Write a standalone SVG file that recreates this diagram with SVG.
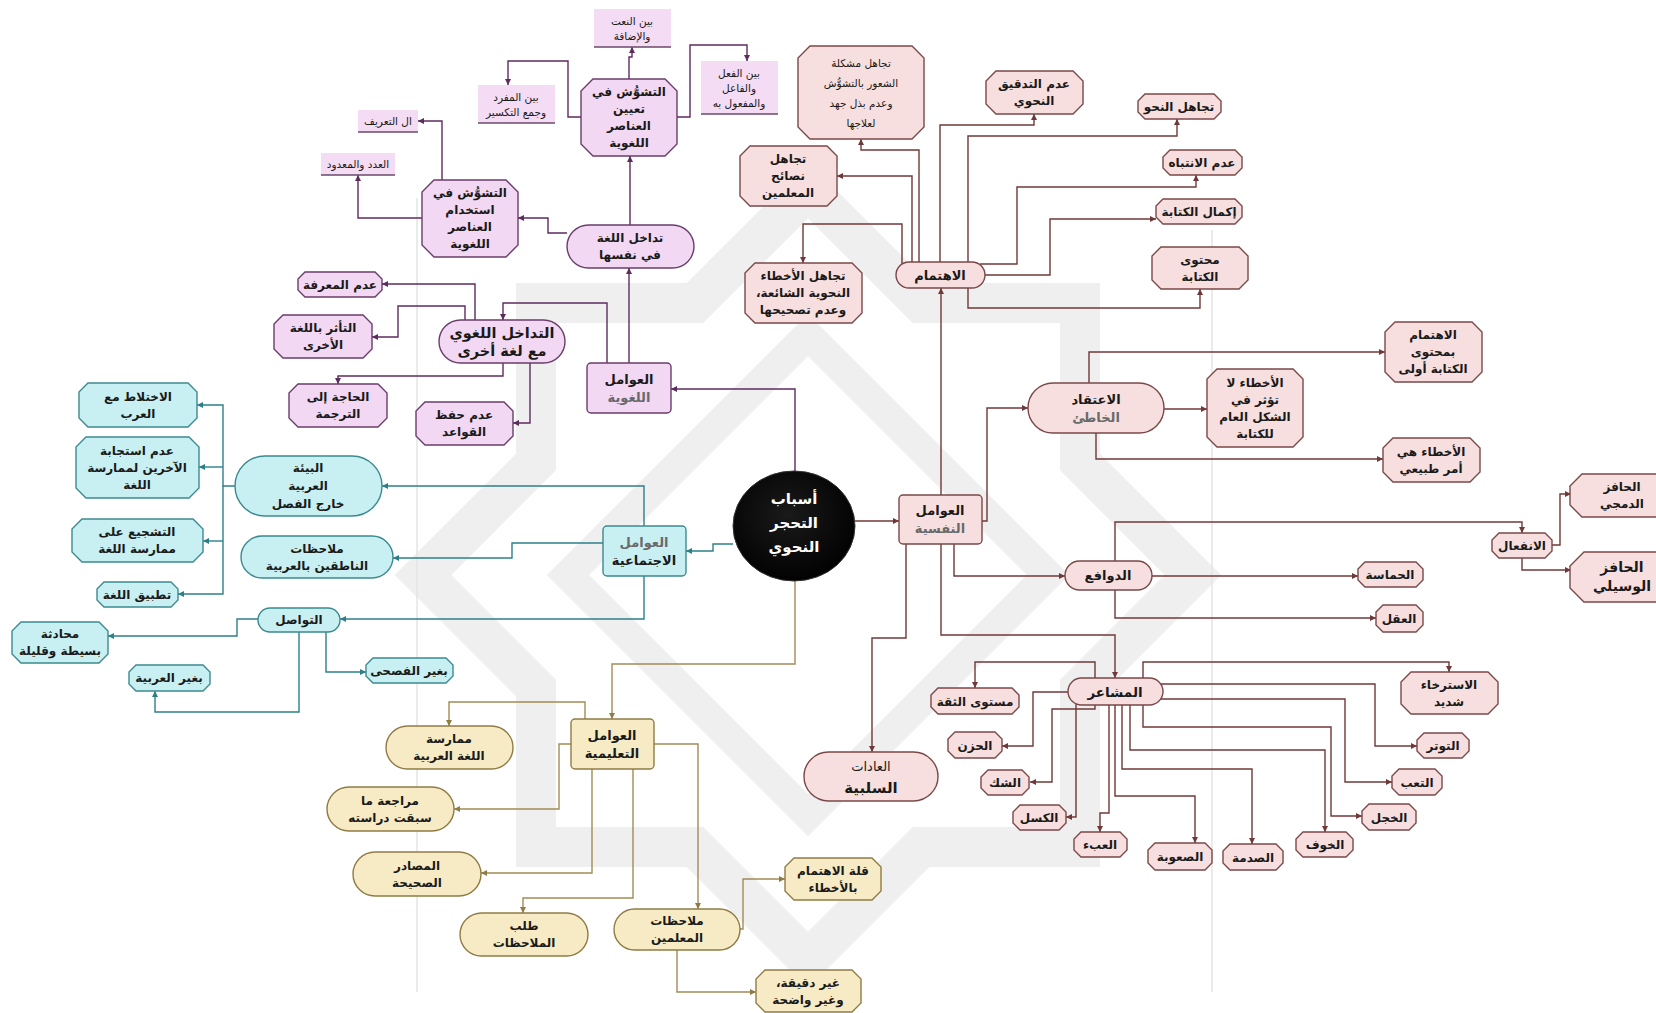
<svg xmlns="http://www.w3.org/2000/svg" width="1656" height="1013" viewBox="0 0 1656 1013">
<style>
.t{font-family:"DejaVu Sans",sans-serif;font-size:12px;font-weight:bold;text-anchor:middle;direction:rtl;fill:#1a1a1a}
.s{font-size:10.5px;font-weight:normal}
.g{fill:#6a6a6a}
.lv{fill:#f2d8f2;stroke:#6a3d6a;stroke-width:1.4}
.lvp{fill:#f3dcf4;stroke:none}
.lvb{stroke:#6a4a6a;stroke-width:1.6}
.cy{fill:#c8f0f3;stroke:#3b8a8f;stroke-width:1.4}
.tn{fill:#f7ebc6;stroke:#8f7c45;stroke-width:1.4}
.pk{fill:#f8dfdf;stroke:#7a4848;stroke-width:1.4}
.cp{fill:none;stroke:#5e2b5e;stroke-width:1.4;marker-end:url(#ap)}
.ct{fill:none;stroke:#2b8088;stroke-width:1.4;marker-end:url(#at)}
.ce{fill:none;stroke:#a38c55;stroke-width:1.4;marker-end:url(#ae)}
.cb{fill:none;stroke:#703838;stroke-width:1.4;marker-end:url(#ab)}
.wm{fill:none;stroke:#efefef;stroke-linejoin:miter}
</style>
<defs>
<marker id="ap" markerUnits="userSpaceOnUse" markerWidth="7" markerHeight="7" refX="6" refY="3" orient="auto"><path d="M0,0 L6,3 L0,6 z" fill="#5e2b5e"/></marker>
<marker id="at" markerUnits="userSpaceOnUse" markerWidth="7" markerHeight="7" refX="6" refY="3" orient="auto"><path d="M0,0 L6,3 L0,6 z" fill="#2b8088"/></marker>
<marker id="ae" markerUnits="userSpaceOnUse" markerWidth="7" markerHeight="7" refX="6" refY="3" orient="auto"><path d="M0,0 L6,3 L0,6 z" fill="#8f7c45"/></marker>
<marker id="ab" markerUnits="userSpaceOnUse" markerWidth="7" markerHeight="7" refX="6" refY="3" orient="auto"><path d="M0,0 L6,3 L0,6 z" fill="#703838"/></marker>
<radialGradient id="cg" cx="45%" cy="40%" r="65%"><stop offset="0" stop-color="#1a1a1a"/><stop offset="1" stop-color="#000"/></radialGradient>
</defs>
<rect width="1656" height="1013" fill="#fff"/>

<g id="watermark">
<polygon class="wm" stroke-width="40" points="1193,575 1080,688 1080,847 921,847 808,960 695,847 536,847 536,688 423,575 536,462 536,303 695,303 808,190 921,303 1080,303 1080,462"/>
<polygon class="wm" stroke-width="30" points="808,335 1048,575 808,815 568,575"/>
<line x1="417" y1="198" x2="417" y2="992" stroke="#e4e4e4" stroke-width="1.5"/>
<line x1="1212" y1="230" x2="1212" y2="992" stroke="#e4e4e4" stroke-width="1.5"/>
</g>

<g id="connectors">
<path class="cp" d="M795,472 V389 H671"/>
<path class="cp" d="M629,363 V268"/>
<path class="cp" d="M607,363 V303 H503 V320"/>
<path class="cp" d="M630,225 V156"/>
<path class="cp" d="M567,233 H548 V218 H518"/>
<path class="cp" d="M629,79 V57 H632 V47"/>
<path class="cp" d="M581,117 H568 V61 H508 V85"/>
<path class="cp" d="M677,117 H690 V45 H747 V61"/>
<path class="cp" d="M442,180 V121 H418"/>
<path class="cp" d="M422,218 H358 V175"/>
<path class="cp" d="M475,322 V284 H382"/>
<path class="cp" d="M465,322 V306 H398 V337 H372"/>
<path class="cp" d="M503,363 V376 H338 V384"/>
<path class="cp" d="M530,363 V423 H513"/>

<path class="ct" d="M733,544 H713 V551 H686"/>
<path class="ct" d="M644,526 V486 H382"/>
<path class="ct" d="M603,543 H512 V558 H393"/>
<path class="ct" d="M644,576 V619 H340"/>
<path class="ct" d="M235,486 H223 V405 H197"/>
<path class="ct" d="M223,467 H199"/>
<path class="ct" d="M223,541 H203"/>
<path class="ct" d="M223,486 V594 H178"/>
<path class="ct" d="M258,619 H237 V636 H108"/>
<path class="ct" d="M326,632 V672 H366"/>
<path class="ct" d="M299,632 V712 H155 V691"/>

<path class="ce" d="M795,581 V664 H612 V719"/>
<path class="ce" d="M585,719 V702 H449 V726"/>
<path class="ce" d="M571,744 H559 V809 H454"/>
<path class="ce" d="M592,769 V873 H481"/>
<path class="ce" d="M633,769 V898 H523 V913"/>
<path class="ce" d="M654,744 H698 V909"/>
<path class="ce" d="M740,929 H743 V879 H785"/>
<path class="ce" d="M677,950 V992 H756"/>

<path class="cb" d="M855,521 H899"/>
<path class="cb" d="M982,521 H987 V408 H1028"/>
<path class="cb" d="M941,495 V288"/>
<path class="cb" d="M954,544 V576 H1065"/>
<path class="cb" d="M941,544 V635 H1115 V678"/>
<path class="cb" d="M906,544 V638 H872 V752"/>
<path class="cb" d="M919,262 V150 H861 V139"/>
<path class="cb" d="M912,262 V176 H837"/>
<path class="cb" d="M902,264 V224 H803 V263"/>
<path class="cb" d="M940,262 V125 H1034 V114"/>
<path class="cb" d="M968,262 V136 H1177 V119"/>
<path class="cb" d="M980,264 H1017 V187 H1196 V175"/>
<path class="cb" d="M985,275 H1050 V219 H1156"/>
<path class="cb" d="M968,288 V308 H1200 V289"/>
<path class="cb" d="M1089,383 V352 H1385"/>
<path class="cb" d="M1164,409 H1207"/>
<path class="cb" d="M1096,433 V459 H1383"/>
<path class="cb" d="M1115,561 V522 H1522 V533"/>
<path class="cb" d="M1152,576 H1358"/>
<path class="cb" d="M1115,590 V618 H1376"/>
<path class="cb" d="M1552,545 H1560 V494 H1571"/>
<path class="cb" d="M1522,558 V570 H1571"/>
<path class="cb" d="M1095,678 V662 H975 V688"/>
<path class="cb" d="M1143,678 V662 H1449 V672"/>
<path class="cb" d="M1068,692 H1033 V746 H1002"/>
<path class="cb" d="M1095,705 V709 H1052 V782 H1030"/>
<path class="cb" d="M1076,702 V817 H1066"/>
<path class="cb" d="M1109,705 V813 H1100 V832"/>
<path class="cb" d="M1115,705 V796 H1195 V843"/>
<path class="cb" d="M1122,705 V769 H1252 V844"/>
<path class="cb" d="M1130,705 V750 H1325 V832"/>
<path class="cb" d="M1143,705 V727 H1331 V816 H1362"/>
<path class="cb" d="M1160,699 H1345 V782 H1392"/>
<path class="cb" d="M1158,684 H1375 V746 H1417"/>
</g>

<g id="center">
<ellipse cx="794" cy="526" rx="61" ry="55" fill="url(#cg)" stroke="#333" stroke-width="1"/>
<text class="t" style="fill:#fff;font-size:15px" x="794" y="504">أسباب</text>
<text class="t" style="fill:#fff;font-size:15px" x="794" y="528">التحجر</text>
<text class="t" style="fill:#fff;font-size:15px" x="794" y="552">النحوي</text>
</g>

<g id="l1"><rect class="lvp" x="594" y="9" width="77" height="38"/><line class="lvb" x1="594" y1="47" x2="671" y2="47"/><text class="t s" x="632" y="24.5">بين النعت</text><text class="t s" x="632" y="39.5">والإضافة</text></g>
<g id="l2"><rect class="lvp" x="478" y="85" width="77" height="38"/><line class="lvb" x1="478" y1="123" x2="555" y2="123"/><text class="t s" x="516" y="100.5">بين المفرد</text><text class="t s" x="516" y="115.5">وجمع التكسير</text></g>
<g id="l3"><rect class="lvp" x="701" y="61" width="77" height="53"/><line class="lvb" x1="701" y1="114" x2="778" y2="114"/><text class="t s" x="739" y="76.5">بين الفعل</text><text class="t s" x="739" y="91.5">والفاعل</text><text class="t s" x="739" y="106.5">والمفعول به</text></g>
<g id="l4"><polygon class="lv" points="593,79 665,79 677,91 677,144 665,156 593,156 581,144 581,91"/><text class="t" x="629" y="96">التشوُّش في</text><text class="t" x="629" y="113">تعيين</text><text class="t" x="629" y="130">العناصر</text><text class="t" x="629" y="147">اللغوية</text></g>
<g id="l5"><rect class="lvp" x="358" y="110" width="60" height="22"/><line class="lvb" x1="358" y1="132" x2="418" y2="132"/><text class="t s" x="388" y="125">ال التعريف</text></g>
<g id="l6"><rect class="lvp" x="321" y="153" width="74" height="22"/><line class="lvb" x1="321" y1="175" x2="395" y2="175"/><text class="t s" x="358" y="168">العدد والمعدود</text></g>
<g id="l7"><polygon class="lv" points="434,180 506,180 518,192 518,245 506,257 434,257 422,245 422,192"/><text class="t" x="470" y="197">التشوُّش في</text><text class="t" x="470" y="214">استخدام</text><text class="t" x="470" y="231">العناصر</text><text class="t" x="470" y="248">اللغوية</text></g>
<g id="l8"><rect class="lv" x="567" y="225" width="127" height="43" rx="21.5"/><text class="t" x="630" y="242">تداخل اللغة</text><text class="t" x="630" y="259">في نفسها</text></g>
<g id="l9"><polygon class="lv" points="305,272 375,272 382,279 382,290 375,297 305,297 298,290 298,279"/><text class="t" x="340" y="289">عدم المعرفة</text></g>
<g id="l10"><polygon class="lv" points="283,315 363,315 372,324 372,349 363,358 283,358 274,349 274,324"/><text class="t" x="323" y="332">التأثر باللغة</text><text class="t" x="323" y="349">الأخرى</text></g>
<g id="l11"><rect class="lv" x="439" y="320" width="126" height="43" rx="21.5"/><text class="t" style="font-size:14.5px" x="502" y="337.5">التداخل اللغوي</text><text class="t" style="font-size:14.5px" x="502" y="355.5">مع لغة أخرى</text></g>
<g id="l12"><polygon class="lv" points="298,384 378,384 387,393 387,418 378,427 298,427 289,418 289,393"/><text class="t" x="338" y="401">الحاجة إلى</text><text class="t" x="338" y="418">الترجمة</text></g>
<g id="l13"><polygon class="lv" points="425,402 504,402 513,411 513,436 504,445 425,445 416,436 416,411"/><text class="t" x="464" y="419">عدم حفظ</text><text class="t" x="464" y="436">القواعد</text></g>
<g id="l14"><rect class="lv" x="587" y="363" width="84" height="50" rx="4"/><text class="t" style="font-size:13px" x="629" y="384">العوامل</text><text class="t g" style="font-size:13px" x="629" y="402">اللغوية</text></g>

<g id="c1"><polygon class="cy" points="88,383 188,383 197,392 197,418 188,427 88,427 79,418 79,392"/><text class="t" x="138" y="400.5">الاختلاط مع</text><text class="t" x="138" y="417.5">العرب</text></g>
<g id="c2"><polygon class="cy" points="86,437 189,437 199,447 199,488 189,498 86,498 76,488 76,447"/><text class="t" x="137" y="454.5">عدم استجابة</text><text class="t" x="137" y="471.5">الآخرين لممارسة</text><text class="t" x="137" y="488.5">اللغة</text></g>
<g id="c3"><polygon class="cy" points="82,519 193,519 203,529 203,552 193,562 82,562 72,552 72,529"/><text class="t" x="137" y="536">التشجيع على</text><text class="t" x="137" y="553">ممارسة اللغة</text></g>
<g id="c4"><polygon class="cy" points="104,582 171,582 178,589 178,600 171,607 104,607 97,600 97,589"/><text class="t" x="137" y="599">تطبيق اللغة</text></g>
<g id="c5"><rect class="cy" x="235" y="456" width="147" height="60" rx="30"/><text class="t" x="308" y="472">البيئة</text><text class="t" x="308" y="490">العربية</text><text class="t" x="308" y="508">خارج الفصل</text></g>
<g id="c6"><rect class="cy" x="241" y="536" width="152" height="42" rx="21"/><text class="t" x="317" y="552.5">ملاحظات</text><text class="t" x="317" y="569.5">الناطقين بالعربية</text></g>
<g id="c7"><rect class="cy" x="258" y="608" width="82" height="24" rx="12"/><text class="t" x="299" y="624">التواصل</text></g>
<g id="c8"><polygon class="cy" points="21,622 99,622 108,631 108,654 99,663 21,663 12,654 12,631"/><text class="t" x="60" y="638">محادثة</text><text class="t" x="60" y="655">بسيطة وقليلة</text></g>
<g id="c9"><polygon class="cy" points="136,665 203,665 210,672 210,684 203,691 136,691 129,684 129,672"/><text class="t" x="169" y="682">بغير العربية</text></g>
<g id="c10"><polygon class="cy" points="373,658 446,658 453,665 453,676 446,683 373,683 366,676 366,665"/><text class="t" x="409" y="675">بغير الفصحى</text></g>
<g id="c11"><rect class="cy" x="603" y="526" width="83" height="50" rx="4"/><text class="t g" style="font-size:13px" x="644" y="546.5">العوامل</text><text class="t" style="font-size:13px" x="644" y="564.5">الاجتماعية</text></g>

<g id="e0"><rect class="tn" x="571" y="719" width="83" height="50" rx="4"/><text class="t" style="font-size:13px" x="612" y="739.5">العوامل</text><text class="t" style="font-size:13px" x="612" y="757.5">التعليمية</text></g>
<g id="e1"><rect class="tn" x="386" y="726" width="127" height="43" rx="21.5"/><text class="t" x="449" y="743">ممارسة</text><text class="t" x="449" y="760">اللغة العربية</text></g>
<g id="e2"><rect class="tn" x="327" y="787" width="127" height="44" rx="22"/><text class="t" x="390" y="804.5">مراجعة ما</text><text class="t" x="390" y="821.5">سبقت دراسته</text></g>
<g id="e3"><rect class="tn" x="353" y="852" width="128" height="44" rx="22"/><text class="t" x="417" y="869.5">المصادر</text><text class="t" x="417" y="886.5">الصحيحة</text></g>
<g id="e4"><rect class="tn" x="460" y="913" width="128" height="43" rx="21.5"/><text class="t" x="524" y="930">طلب</text><text class="t" x="524" y="947">الملاحظات</text></g>
<g id="e5"><rect class="tn" x="614" y="909" width="126" height="41" rx="20.5"/><text class="t" x="677" y="925">ملاحظات</text><text class="t" x="677" y="942">المعلمين</text></g>
<g id="e6"><polygon class="tn" points="794,858 872,858 881,867 881,891 872,900 794,900 785,891 785,867"/><text class="t" x="833" y="874.5">قلة الاهتمام</text><text class="t" x="833" y="891.5">بالأخطاء</text></g>
<g id="e7"><polygon class="tn" points="765,970 852,970 861,979 861,1003 852,1012 765,1012 756,1003 756,979"/><text class="t" x="808" y="986.5">غير دقيقة،</text><text class="t" x="808" y="1003.5">وغير واضحة</text></g>

<g id="k0"><rect class="pk" x="899" y="495" width="83" height="49" rx="4"/><text class="t" style="font-size:13px" x="940" y="515">العوامل</text><text class="t g" style="font-size:13px" x="940" y="533">النفسية</text></g>
<g id="k1"><rect class="pk" x="896" y="262" width="89" height="26" rx="13"/><text class="t" style="font-size:13px" x="940" y="279.5">الاهتمام</text></g>
<g id="k2"><polygon class="pk" points="810,46 912,46 924,58 924,127 912,139 810,139 798,127 798,58"/><text class="t s" x="861" y="66.5">تجاهل مشكلة</text><text class="t s" x="861" y="86.5">الشعور بالتشوُّش</text><text class="t s" x="861" y="106.5">وعدم بذل جهد</text><text class="t s" x="861" y="126.5">لعلاجها</text></g>
<g id="k3"><polygon class="pk" points="750,146 827,146 837,156 837,196 827,206 750,206 740,196 740,156"/><text class="t" x="788" y="163">تجاهل</text><text class="t" x="788" y="180">نصائح</text><text class="t" x="788" y="197">المعلمين</text></g>
<g id="k4"><polygon class="pk" points="755,263 852,263 862,273 862,313 852,323 755,323 745,313 745,273"/><text class="t" x="803" y="280">تجاهل الأخطاء</text><text class="t" x="803" y="297">النحوية الشائعة،</text><text class="t" x="803" y="314">وعدم تصحيحها</text></g>
<g id="k5"><polygon class="pk" points="996,71 1073,71 1083,81 1083,104 1073,114 996,114 986,104 986,81"/><text class="t" x="1034" y="88">عدم التدقيق</text><text class="t" x="1034" y="105">النحوي</text></g>
<g id="k6"><polygon class="pk" points="1145,94 1214,94 1221,101 1221,112 1214,119 1145,119 1138,112 1138,101"/><text class="t" x="1179" y="111">تجاهل النحو</text></g>
<g id="k7"><polygon class="pk" points="1170,150 1235,150 1242,157 1242,168 1235,175 1170,175 1163,168 1163,157"/><text class="t" x="1202" y="167">عدم الانتباه</text></g>
<g id="k8"><polygon class="pk" points="1163,199 1235,199 1242,206 1242,217 1235,224 1163,224 1156,217 1156,206"/><text class="t" x="1199" y="216">إكمال الكتابة</text></g>
<g id="k9"><polygon class="pk" points="1161,247 1239,247 1248,256 1248,280 1239,289 1161,289 1152,280 1152,256"/><text class="t" x="1200" y="263.5">محتوى</text><text class="t" x="1200" y="280.5">الكتابة</text></g>
<g id="k10"><rect class="pk" x="1028" y="383" width="136" height="50" rx="25"/><text class="t" style="font-size:13px" x="1096" y="403.5">الاعتقاد</text><text class="t g" style="font-size:13px" x="1096" y="421.5">الخاطئ</text></g>
<g id="k11"><polygon class="pk" points="1217,369 1293,369 1303,379 1303,437 1293,447 1217,447 1207,437 1207,379"/><text class="t" x="1255" y="386.5">الأخطاء لا</text><text class="t" x="1255" y="403.5">تؤثر في</text><text class="t" x="1255" y="420.5">الشكل العام</text><text class="t" x="1255" y="437.5">للكتابة</text></g>
<g id="k12"><polygon class="pk" points="1395,322 1472,322 1482,332 1482,372 1472,382 1395,382 1385,372 1385,332"/><text class="t" x="1433" y="339">الاهتمام</text><text class="t" x="1433" y="356">بمحتوى</text><text class="t" x="1433" y="373">الكتابة أولى</text></g>
<g id="k13"><polygon class="pk" points="1393,438 1470,438 1480,448 1480,472 1470,482 1393,482 1383,472 1383,448"/><text class="t" x="1431" y="455.5">الأخطاء هي</text><text class="t" x="1431" y="472.5">أمر طبيعي</text></g>
<g id="k14"><rect class="pk" x="1065" y="561" width="87" height="29" rx="14.5"/><text class="t" style="font-size:13px" x="1108" y="580">الدوافع</text></g>
<g id="k15"><polygon class="pk" points="1499,533 1545,533 1552,540 1552,551 1545,558 1499,558 1492,551 1492,540"/><text class="t" x="1522" y="550">الانفعال</text></g>
<g id="k16"><polygon class="pk" points="1582,474 1660,474 1660,517 1582,517 1570,505 1570,486"/><text class="t" x="1622" y="491">الحافز</text><text class="t" x="1622" y="508">الدمجي</text></g>
<g id="k17"><polygon class="pk" points="1584,552 1660,552 1660,602 1584,602 1570,588 1570,566"/><text class="t" style="font-size:14px" x="1622" y="572">الحافز</text><text class="t" style="font-size:14px" x="1622" y="591">الوسيلي</text></g>
<g id="k18"><polygon class="pk" points="1365,562 1416,562 1423,569 1423,580 1416,587 1365,587 1358,580 1358,569"/><text class="t" x="1390" y="579">الحماسة</text></g>
<g id="k19"><polygon class="pk" points="1383,605 1416,605 1423,612 1423,625 1416,632 1383,632 1376,625 1376,612"/><text class="t" x="1399" y="623">العقل</text></g>
<g id="k20"><rect class="pk" x="1068" y="678" width="95" height="27" rx="13.5"/><text class="t" style="font-size:13.5px" x="1115" y="696.5">المشاعر</text></g>
<g id="k21"><polygon class="pk" points="938,688 1012,688 1019,695 1019,707 1012,714 938,714 931,707 931,695"/><text class="t" x="975" y="705.5">مستوى الثقة</text></g>
<g id="k22"><polygon class="pk" points="955,732 995,732 1002,739 1002,751 995,758 955,758 948,751 948,739"/><text class="t" x="975" y="749.5">الحزن</text></g>
<g id="k23"><polygon class="pk" points="988,770 1022,770 1029,777 1029,788 1022,795 988,795 981,788 981,777"/><text class="t" x="1005" y="787">الشك</text></g>
<g id="k24"><polygon class="pk" points="1020,805 1059,805 1066,812 1066,823 1059,830 1020,830 1013,823 1013,812"/><text class="t" x="1039" y="822">الكسل</text></g>
<g id="k25"><polygon class="pk" points="1081,832 1120,832 1127,839 1127,850 1120,857 1081,857 1074,850 1074,839"/><text class="t" x="1100" y="849">العبء</text></g>
<g id="k26"><polygon class="pk" points="1155,843 1205,843 1212,850 1212,863 1205,870 1155,870 1148,863 1148,850"/><text class="t" x="1180" y="861">الصعوبة</text></g>
<g id="k27"><polygon class="pk" points="1230,844 1276,844 1283,851 1283,863 1276,870 1230,870 1223,863 1223,851"/><text class="t" x="1253" y="861.5">الصدمة</text></g>
<g id="k28"><polygon class="pk" points="1303,832 1346,832 1353,839 1353,850 1346,857 1303,857 1296,850 1296,839"/><text class="t" x="1325" y="849">الخوف</text></g>
<g id="k29"><polygon class="pk" points="1369,804 1409,804 1416,811 1416,823 1409,830 1369,830 1362,823 1362,811"/><text class="t" x="1389" y="821.5">الخجل</text></g>
<g id="k30"><polygon class="pk" points="1399,769 1435,769 1442,776 1442,788 1435,795 1399,795 1392,788 1392,776"/><text class="t" x="1417" y="786.5">التعب</text></g>
<g id="k31"><polygon class="pk" points="1424,733 1462,733 1469,740 1469,751 1462,758 1424,758 1417,751 1417,740"/><text class="t" x="1443" y="750">التوتر</text></g>
<g id="k32"><polygon class="pk" points="1411,672 1488,672 1498,682 1498,704 1488,714 1411,714 1401,704 1401,682"/><text class="t" x="1449" y="688.5">الاسترخاء</text><text class="t" x="1449" y="705.5">شديد</text></g>
<g id="k33"><rect class="pk" x="804" y="752" width="134" height="49" rx="24.5"/><text class="t" style="font-size:13px;font-weight:normal" x="871" y="771">العادات</text><text class="t" style="font-size:15px" x="871" y="793">السلبية</text></g>
</svg>
